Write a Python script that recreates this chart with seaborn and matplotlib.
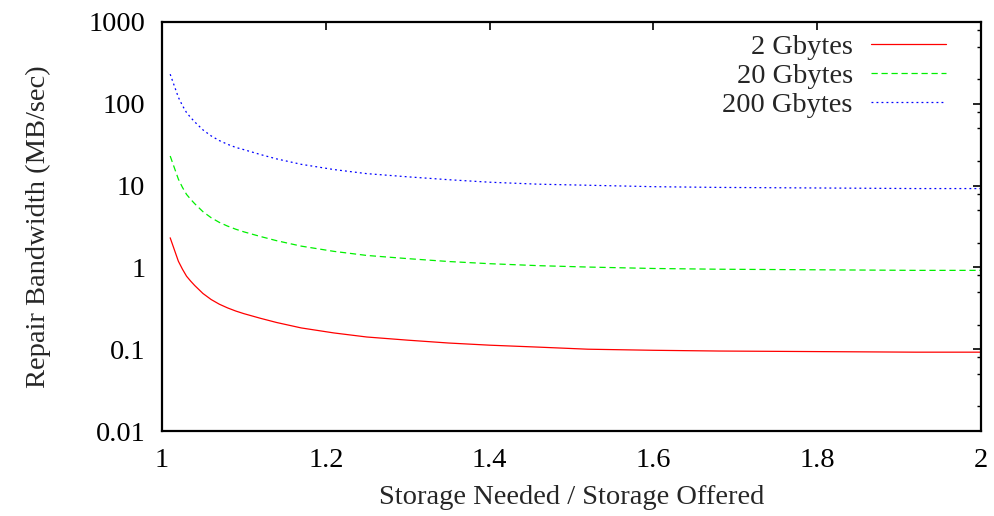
import numpy as np
import pandas as pd
import matplotlib
matplotlib.use("Agg")
import matplotlib.pyplot as plt
import seaborn as sns
from matplotlib.ticker import LogLocator, FixedLocator, NullFormatter

# valores
razao = [1.01, 1.02, 1.025, 1.03, 1.035, 1.04, 1.05, 1.06, 1.07, 1.08, 1.09, 1.10,
         1.12, 1.14, 1.17, 1.21, 1.25, 1.30, 1.35, 1.40, 1.46, 1.52, 1.60,
         1.68, 1.76, 1.84, 1.92, 2.00]
banda_2gb = [2.3, 1.19, 0.95, 0.78, 0.68, 0.60, 0.48, 0.405, 0.355, 0.32, 0.293, 0.272,
             0.239, 0.212, 0.182, 0.158, 0.141, 0.129, 0.119, 0.112, 0.106, 0.100, 0.097,
             0.095, 0.094, 0.093, 0.092, 0.092]
banda_20gb = [23, 12, 9.5, 7.8, 6.8, 6.0, 4.8, 4.05, 3.55, 3.2, 2.93, 2.72,
              2.39, 2.12, 1.82, 1.57, 1.40, 1.28, 1.18, 1.11, 1.05, 1.01, 0.97,
              0.95, 0.94, 0.93, 0.92, 0.92]
banda_200gb = [230, 120, 95, 78, 68, 60, 48, 40.5, 35.5, 32, 29.3, 27.5,
               24, 21.2, 18.2, 15.7, 14.0, 12.8, 11.8, 11.0, 10.4, 10.1, 9.7,
               9.5, 9.4, 9.3, 9.2, 9.2]
rotulos = ["2 Gbytes", "20 Gbytes", "200 Gbytes"]

n = len(razao)
df = pd.DataFrame({
    "razao": razao * 3,
    "banda": banda_2gb + banda_20gb + banda_200gb,
    "serie": [rotulos[0]] * n + [rotulos[1]] * n + [rotulos[2]] * n,
})

sns.set_style("white")
plt.rcParams["font.family"] = ["Liberation Serif", "DejaVu Serif"]
plt.rcParams["font.size"] = 20.5

fig = plt.figure(figsize=(9.95, 5.16), dpi=100)
ax = fig.add_axes([0.1628, 0.1647, 0.8232, 0.7927])

cores = {rotulos[0]: "#ff0000", rotulos[1]: "#00f000", rotulos[2]: "#0000ff"}
estilos = {rotulos[0]: "-", rotulos[1]: (0, (5, 3)), rotulos[2]: (0, (1.5, 2.5))}
for nome in rotulos:
    sub = df[df["serie"] == nome]
    sns.lineplot(data=sub, x="razao", y="banda", ax=ax, color=cores[nome],
                 linestyle=estilos[nome], linewidth=0.9, label=nome)

ax.set_yscale("log")
ax.set_xlim(1, 2)
ax.set_ylim(0.01, 1000)
ax.xaxis.set_major_locator(FixedLocator([1, 1.2, 1.4, 1.6, 1.8, 2]))
ax.set_xticklabels(["1", "1.2", "1.4", "1.6", "1.8", "2"])
ax.yaxis.set_major_locator(FixedLocator([0.01, 0.1, 1, 10, 100, 1000]))
ax.set_yticklabels(["0.01", "0.1", "1", "10", "100", "1000"])
ax.yaxis.set_minor_locator(LogLocator(base=10, subs=[2, 5, 8]))
ax.yaxis.set_minor_formatter(NullFormatter())

ax.tick_params(which="both", direction="in", top=True, right=True, colors="black")
ax.tick_params(which="major", length=5.5, width=1.2, pad=12, labelsize=20.5)
ax.tick_params(which="minor", length=3, width=1.0)
ax.tick_params(axis="x", which="major", pad=12)
for s in ax.spines.values():
    s.set_linewidth(1.6)
    s.set_color("black")

ax.set_xlabel("Storage Needed / Storage Offered", fontsize=20.5, labelpad=9)
ax.set_ylabel("Repair Bandwidth (MB/sec)", fontsize=20.5, labelpad=27)

ax.legend(loc="upper right", bbox_to_anchor=(0.978, 1.012), frameon=False,
          markerfirst=False, handlelength=2.65, handletextpad=0.62,
          labelspacing=0.1, fontsize=20.5, borderaxespad=0.2)

fig.savefig("out.png", dpi=100)
